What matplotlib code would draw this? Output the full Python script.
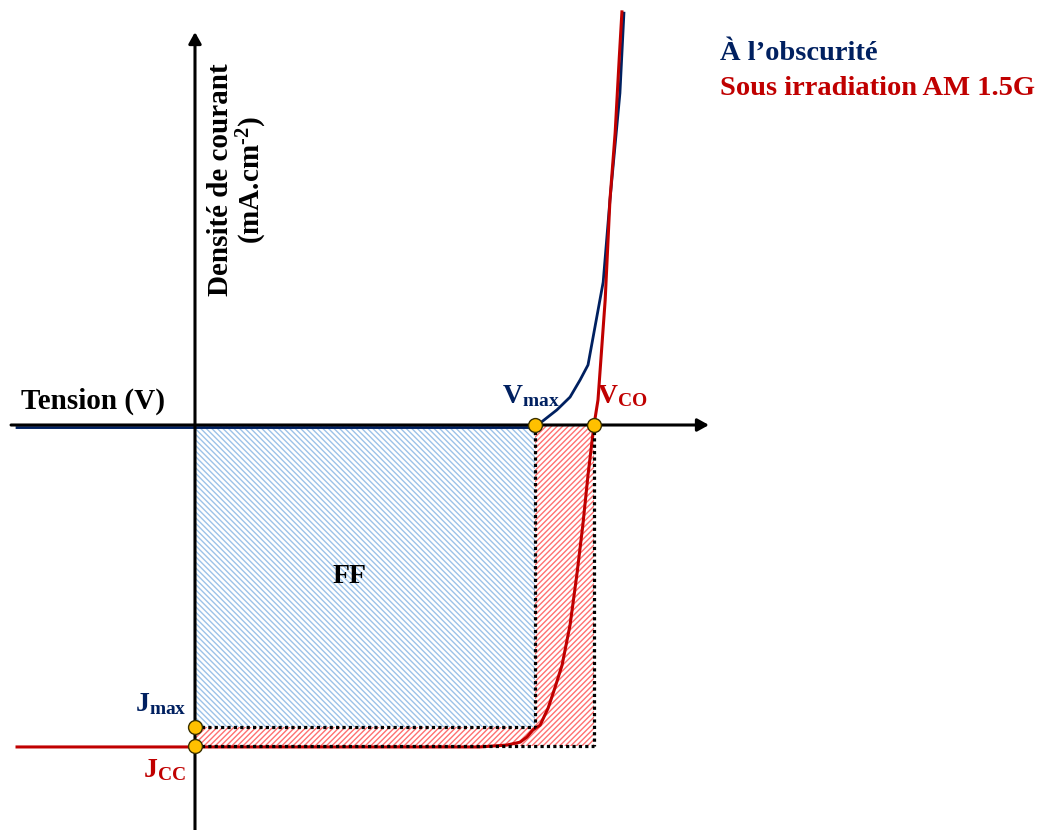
"""
 Courbe J-V d'une cellule solaire (schéma)
"""

# Libraries
import matplotlib
matplotlib.use("Agg")
import matplotlib.pyplot as plt

# Constants
NAVY      = "#002060"
DARK_RED  = "#C00000"
HATCH_BLU = "#9CC2E8"
HATCH_RED = "#FF7070"
GOLD      = "#FFC000"
FONT      = "Liberation Serif"

# Data (tension normalisée par V_CO, courant normalisé par J_CC)
v_dark  = [-0.446, 0.852, 0.865, 0.907, 0.940, 0.965, 0.985, 1.023, 1.040, 1.065, 1.075]
j_dark  = [-0.008, -0.008, 0.006, 0.047, 0.087, 0.140, 0.187, 0.445, 0.701, 1.034, 1.283]
v_light = [-0.446, 0.714, 0.782, 0.815, 0.832, 0.847, 0.865, 0.885, 0.902, 0.920, 0.940,
           0.957, 0.972, 0.985, 1.000, 1.010, 1.028, 1.040, 1.053, 1.063, 1.070]
j_light = [-1.003, -1.003, -0.997, -0.988, -0.972, -0.950, -0.935, -0.882, -0.819, -0.748, -0.623,
           -0.467, -0.312, -0.156, 0.000, 0.078, 0.389, 0.701, 0.910, 1.137, 1.287]
v_max, v_co = 0.852, 1.000
j_max, j_cc = -0.941, -1.000

# Fonts
plt.rcParams["font.family"] = [FONT, "DejaVu Serif"]
plt.rcParams["font.weight"] = "bold"
plt.rcParams["mathtext.fontset"] = "custom"
plt.rcParams["mathtext.rm"] = FONT
plt.rcParams["mathtext.bf"] = FONT + ":bold"
plt.rcParams["mathtext.it"] = FONT + ":italic"
plt.rcParams["hatch.linewidth"] = 1.0

# Figure
fig = plt.figure(figsize=(10.41, 8.30), dpi=100)
ax = fig.add_axes([0, 0, 1, 1])
ax.set_xlim(-0.4887, 2.1203)
ax.set_ylim(-1.2617, 1.324)
ax.axis("off")

# Hatched areas
ax.fill([0, v_max, v_max, 0], [0, 0, j_max, j_max], facecolor="none",
        edgecolor=HATCH_BLU, linewidth=0, hatch="\\" * 6, zorder=1)
ax.fill([0, v_co, v_co, v_max, v_max, 0], [j_cc, j_cc, 0, 0, j_max, j_max], facecolor="none",
        edgecolor=HATCH_RED, linewidth=0, hatch="/" * 6, zorder=1)

# Curves
ax.plot(v_dark, j_dark, color=NAVY, linewidth=2.0, zorder=2)
ax.plot(v_light, j_light, color=DARK_RED, linewidth=2.2, zorder=3)

# Dotted borders
dot = dict(color="black", linewidth=2.3, linestyle=(0, (1, 1)), dash_capstyle="butt", zorder=4)
ax.plot([v_max, v_max], [0, j_max], **dot)
ax.plot([0, v_max], [j_max, j_max], **dot)
ax.plot([v_co, v_co], [0, j_cc], **dot)
ax.plot([0, v_co], [j_cc, j_cc], **dot)

# Axes with arrows
arrow = dict(arrowstyle="-|>,head_length=0.45,head_width=0.25", mutation_scale=15,
             color="black", linewidth=2.2, shrinkA=0, shrinkB=0)
ax.annotate("", xy=(1.288, 0), xytext=(-0.461, 0), arrowprops=arrow, zorder=5)
ax.annotate("", xy=(0, 1.224), xytext=(0, -1.262), arrowprops=arrow, zorder=5)

# Points
ax.plot([v_max, v_co, 0, 0], [0, 0, j_max, j_cc], linestyle="none", marker="o", markersize=10,
        markerfacecolor=GOLD, markeredgecolor="#3A3000", markeredgewidth=1.0, zorder=6)

# Labels
lab = dict(textcoords="offset pixels", fontsize=20, va="baseline", zorder=7)
ax.annotate(r"$\mathbf{V_{max}}$", xy=(v_max, 0), xytext=(25, 22), ha="right", color=NAVY, **lab)
ax.annotate(r"$\mathbf{V_{CO}}$", xy=(v_co, 0), xytext=(3, 22), ha="left", color=DARK_RED, **lab)
ax.annotate(r"$\mathbf{J_{max}}$", xy=(0, j_max), xytext=(-8, 16), ha="right", color=NAVY, **lab)
ax.annotate(r"$\mathbf{J_{CC}}$", xy=(0, j_cc), xytext=(-9, -31), ha="right", color=DARK_RED, **lab)
ax.annotate("Tension (V)", xy=(0, 0), xytext=(-30, 16), textcoords="offset pixels", fontsize=21,
            ha="right", va="baseline", color="black")
ax.annotate("FF", xy=(v_max / 2, j_max / 2), xytext=(-15, 0), textcoords="offset pixels",
            fontsize=20, ha="center", va="center", color="black")
ax.annotate("Densité de courant\n(mA.cm$^{\\text{-2}}$)", xy=(0, 0), xytext=(43, 245),
            textcoords="offset pixels", fontsize=21, rotation=90, ha="center", va="center",
            multialignment="center", linespacing=1.05, color="black")

# Legend
fig.text(720 / 1041, 1 - 60 / 830, "À l’obscurité", fontsize=20.5, color=NAVY, va="baseline")
fig.text(720 / 1041, 1 - 95 / 830, "Sous irradiation AM 1.5G", fontsize=20.5, color=DARK_RED, va="baseline")

fig.savefig("out.png", dpi=100)
